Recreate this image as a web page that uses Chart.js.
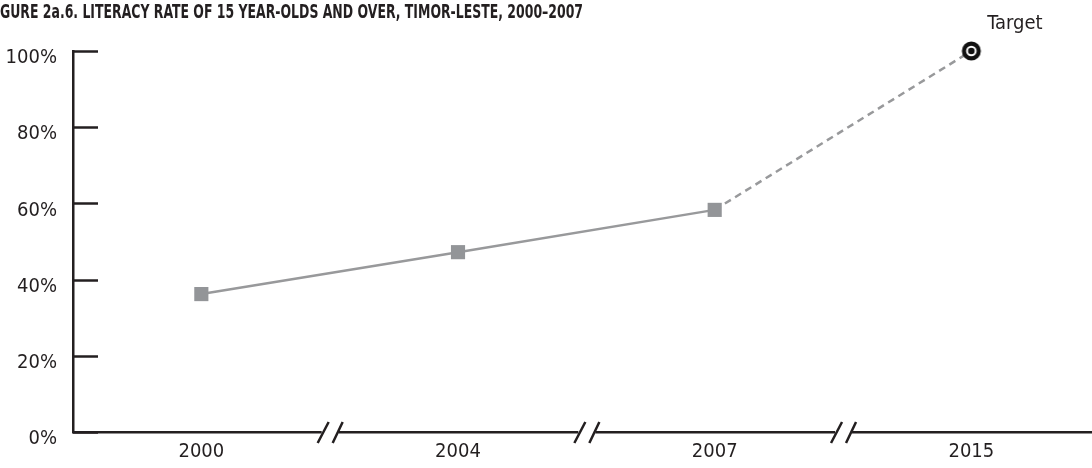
<!DOCTYPE html>
<html>
<head>
<meta charset="utf-8">
<script src="https://cdn.jsdelivr.net/npm/chart.js@4"></script>
<style>
  html, body { margin: 0; padding: 0; background: #fff; overflow: hidden; }
  #wrap { width: 1092px; height: 468px; position: relative; }
</style>
</head>
<body>
<div id="wrap"><canvas id="chart"></canvas></div>
<script>
// data
const years = ['2000', '2004', '2007', '2015'];
const literacy = [36.2, 47.2, 58.3, 100];
const yTicks = [0, 20, 40, 60, 80, 100];
const titleText = 'GURE 2a.6. LITERACY RATE OF 15 YEAR-OLDS AND OVER, TIMOR-LESTE, 2000\u20132007';
const targetLabel = 'Target';

const ink = '#231f20';
const lineGrey = '#98999b';
const fontFam = '"Liberation Sans Narrow", "DejaVu Sans Condensed", "Arial Narrow", sans-serif';

// bullseye marker used for the 2015 target
const targetImg = document.createElement('canvas');
targetImg.width = 26;
targetImg.height = 26;
(function () {
  const c = targetImg.getContext('2d');
  c.beginPath();
  c.arc(13, 13, 7.4, 0, Math.PI * 2);
  c.fillStyle = '#fff';
  c.fill();
  c.lineWidth = 4.2;
  c.strokeStyle = '#111';
  c.stroke();
  c.beginPath();
  c.arc(13, 13, 3.3, 0, Math.PI * 2);
  c.fillStyle = '#111';
  c.fill();
})();

// title, inward y ticks, axis breaks and the "Target" note
const decorations = {
  id: 'decorations',
  afterDraw(chart) {
    const ctx = chart.ctx;
    const x = chart.scales.x;
    const y = chart.scales.y;
    ctx.save();

    // condensed title squeezed to the width it has in the figure
    ctx.fillStyle = ink;
    ctx.font = '700 19px ' + fontFam;
    ctx.textBaseline = 'alphabetic';
    ctx.textAlign = 'left';
    const w = ctx.measureText(titleText).width;
    ctx.save();
    ctx.scale(583 / w, 1);
    ctx.fillText(titleText, 0, 18);
    ctx.restore();

    // tick marks pointing into the plot
    ctx.strokeStyle = ink;
    ctx.lineWidth = 2.5;
    y.ticks.forEach((t, i) => {
      const py = Math.round(y.getPixelForTick(i)) + 0.5;
      ctx.beginPath();
      ctx.moveTo(x.left, py);
      ctx.lineTo(x.left + 25, py);
      ctx.stroke();
    });

    // // breaks between the years
    const base = y.getPixelForValue(0);
    for (let i = 0; i < years.length - 1; i++) {
      const xm = x.getPixelForValue(i + 0.5);
      ctx.fillStyle = '#fff';
      ctx.fillRect(xm - 8, base - 4, 17, 8);
      ctx.beginPath();
      ctx.moveTo(xm - 12, base + 11);
      ctx.lineTo(xm - 1, base - 10);
      ctx.moveTo(xm + 3, base + 11);
      ctx.lineTo(xm + 13, base - 10);
      ctx.stroke();
    }

    const last = years.length - 1;
    const tx = x.getPixelForValue(last);
    const ty = y.getPixelForValue(literacy[last]);
    ctx.fillStyle = ink;
    ctx.font = '20px ' + fontFam;
    ctx.textAlign = 'left';
    ctx.fillText(targetLabel, tx + 16, ty - 22);
    ctx.restore();
  }
};

new Chart(document.getElementById('chart'), {
  type: 'line',
  data: {
    datasets: [{
      data: literacy.map((v, i) => ({ x: i, y: v })),
      borderColor: lineGrey,
      borderWidth: 2.5,
      fill: false,
      tension: 0,
      clip: false,
      pointStyle: ctx => ctx.dataIndex === years.length - 1 ? targetImg : 'rect',
      pointRadius: 10,
      pointBorderWidth: 0,
      pointBackgroundColor: '#939598',
      segment: {
        borderDash: ctx => ctx.p1DataIndex === years.length - 1 ? [7, 5] : undefined
      }
    }]
  },
  options: {
    responsive: true,
    maintainAspectRatio: false,
    animation: false,
    layout: { autoPadding: false, padding: { top: 51, right: 0, left: 0, bottom: 0 } },
    plugins: { legend: { display: false }, tooltip: { enabled: false } },
    scales: {
      x: {
        type: 'linear',
        min: -0.5,
        max: 3.47,
        afterBuildTicks: s => { s.ticks = years.map((_, i) => ({ value: i })); },
        afterFit: s => { s.height = 36; s.paddingLeft = 0; s.paddingRight = 0; },
        grid: { display: false, drawTicks: false },
        border: { display: true, color: ink, width: 2.5 },
        ticks: {
          padding: 8,
          color: ink,
          font: { family: fontFam, size: 20 },
          maxRotation: 0,
          callback: v => years[v]
        }
      },
      y: {
        min: 0,
        max: 100,
        afterBuildTicks: s => { s.ticks = yTicks.map(v => ({ value: v })); },
        afterFit: s => { s.width = 73; },
        grid: { display: false, drawTicks: false },
        border: { display: true, color: ink, width: 2.5 },
        ticks: {
          padding: 16,
          labelOffset: 7,
          color: ink,
          font: { family: fontFam, size: 20 },
          callback: v => v + '%'
        }
      }
    }
  },
  plugins: [decorations]
});
</script>
</body>
</html>
